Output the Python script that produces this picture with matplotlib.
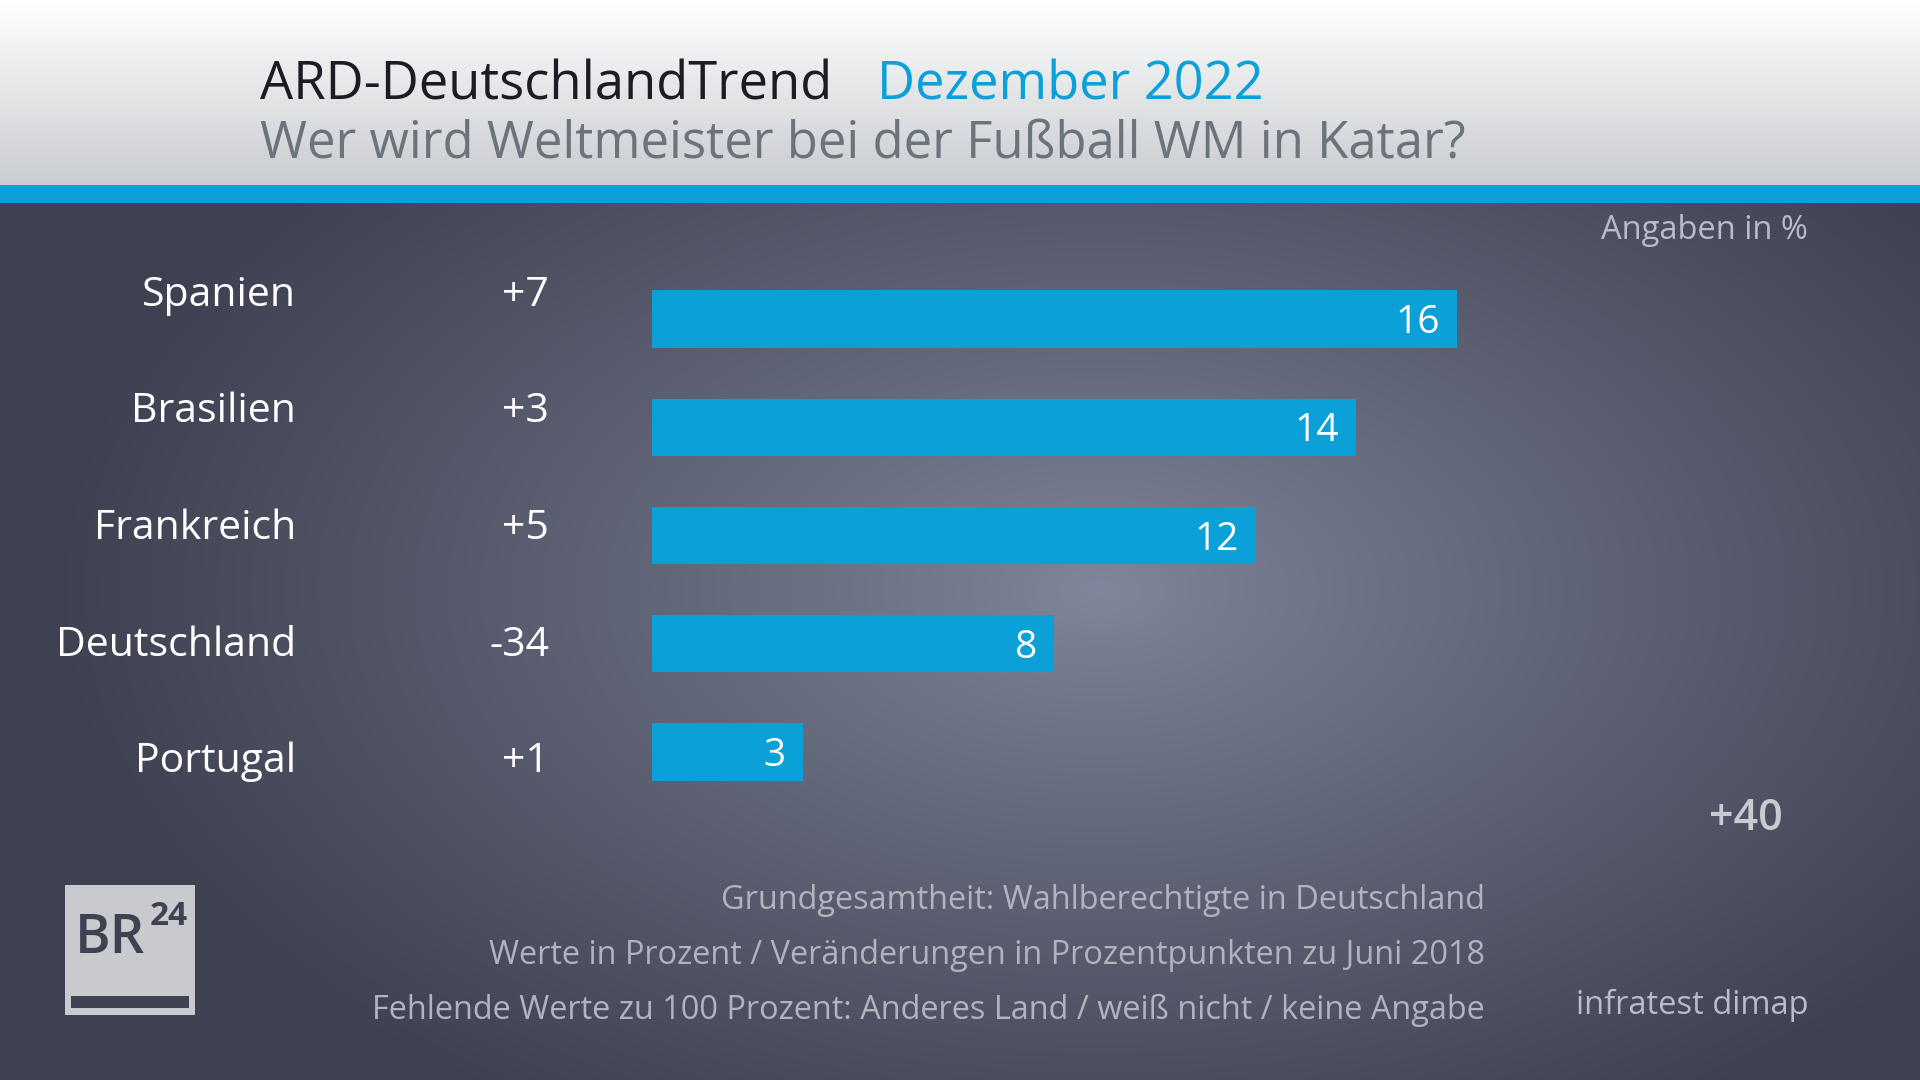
import numpy as np
import matplotlib
matplotlib.use("Agg")
import matplotlib.pyplot as plt
from matplotlib.patches import Rectangle

plt.rcParams['font.family'] = ['Open Sans', 'DejaVu Sans']

# ---------------- data ----------------
countries = ["Spanien", "Brasilien", "Frankreich", "Deutschland", "Portugal"]
values = [16, 14, 12, 8, 3]
changes = ["+7", "+3", "+5", "-34", "+1"]

title_main = "ARD-DeutschlandTrend"
title_date = "Dezember 2022"
subtitle = "Wer wird Weltmeister bei der Fußball WM in Katar?"
unit_note = "Angaben in %"
max_change_note = "+40"
footnotes = ["Grundgesamtheit: Wahlberechtigte in Deutschland",
             "Werte in Prozent / Veränderungen in Prozentpunkten zu Juni 2018",
             "Fehlende Werte zu 100 Prozent: Anderes Land / weiß nicht / keine Angabe"]
source = "infratest dimap"

W, H = 1920, 1080
BLUE = "#0ba0d8"

fig = plt.figure(figsize=(W / 100, H / 100), dpi=100)

# ---------------- background ----------------
bg = fig.add_axes([0, 0, 1, 1])
bg.set_xlim(0, W)
bg.set_ylim(H, 0)
bg.axis("off")
yy, xx = np.mgrid[0:H, 0:W]
img = np.zeros((H, W, 3))
center = np.array([0x80, 0x86, 0x9b]) / 255
edge = np.array([0x3e, 0x41, 0x51]) / 255
t = np.sqrt(((xx - 1100) / 1050.0) ** 2 + ((yy - 590) / 620.0) ** 2)
t = np.clip(t, 0, 1) ** 0.9
img[:] = (center[None, None, :] * (1 - t[..., None]) + edge[None, None, :] * t[..., None])
# header
top = np.array([1.0, 1.0, 1.0])
bot = np.array([0xc9, 0xcc, 0xd0]) / 255
hy = np.linspace(0, 1, 185)[:, None]
img[:185] = (top * (1 - hy) + bot * hy)[:, None, :]
img[185:203] = np.array([0x0b, 0xa0, 0xd8]) / 255
bg.imshow(img, extent=[0, W, H, 0], aspect="auto", interpolation="bilinear")

# ---------------- header texts ----------------
def fy(py):
    return 1 - py / H

fig.text(260 / W, fy(99), title_main, fontsize=37.8, color="#1b1d24", va="baseline", ha="left")
fig.text(877 / W, fy(99), title_date, fontsize=37.8, color=BLUE, va="baseline", ha="left")
fig.text(260 / W, fy(158), subtitle, fontsize=36.6, color="#6b737c", va="baseline", ha="left")

# ---------------- bars ----------------
ax_left, ax_w = 652, 1000
ax_top, ax_h = 265, 541
ax = fig.add_axes([ax_left / W, fy(ax_top + ax_h), ax_w / W, ax_h / H])
ax.patch.set_alpha(0)
y = np.arange(len(countries))
ax.barh(y, values, height=0.53, color=BLUE, left=0)
ax.set_xlim(0, 1000 / 50.3)
ax.set_ylim(len(countries) - 0.5, -0.5)
ax.axis("off")
for i, v in enumerate(values):
    ax.annotate(str(v), xy=(v, i), xytext=(-17, -14), textcoords="offset pixels",
                ha="right", va="baseline", color="white", fontsize=28)

# ---------------- row labels ----------------
for i, (c, ch) in enumerate(zip(countries, changes)):
    base = 306 + i * 116.5
    fig.text(296 / W, fy(base), c, fontsize=29.5, color="white", ha="right", va="baseline")
    fig.text(549 / W, fy(base), ch, fontsize=29.5, color="white", ha="right", va="baseline")

# ---------------- notes ----------------
fig.text(1808 / W, fy(239), unit_note, fontsize=23.5, color="#b9bcc4", ha="right", va="baseline")
fig.text(1783 / W, fy(830), max_change_note, fontsize=31, color="#c9cbd0", ha="right",
         va="baseline", fontweight="semibold")
fig.text(1808 / W, fy(1014), source, fontsize=23.5, color="#b9bcc4", ha="right", va="baseline")
for i, line in enumerate(footnotes):
    fig.text(1485 / W, fy(909 + i * 55), line, fontsize=23.4, color="#b0b4bc",
             ha="right", va="baseline")

# ---------------- logo ----------------
bg.add_patch(Rectangle((65, 885), 130, 130, facecolor="#c9cacd", edgecolor="none"))
bg.add_patch(Rectangle((71, 996), 118, 12, facecolor="#3f4252", edgecolor="none"))
bg.text(75, 953, "BR", fontsize=39, color="#3f4252", ha="left", va="baseline",
        fontweight="semibold")
bg.text(188, 925, "24", fontsize=24, color="#3f4252", ha="right", va="baseline",
        fontweight="bold")

fig.savefig("out.png", dpi=100)
